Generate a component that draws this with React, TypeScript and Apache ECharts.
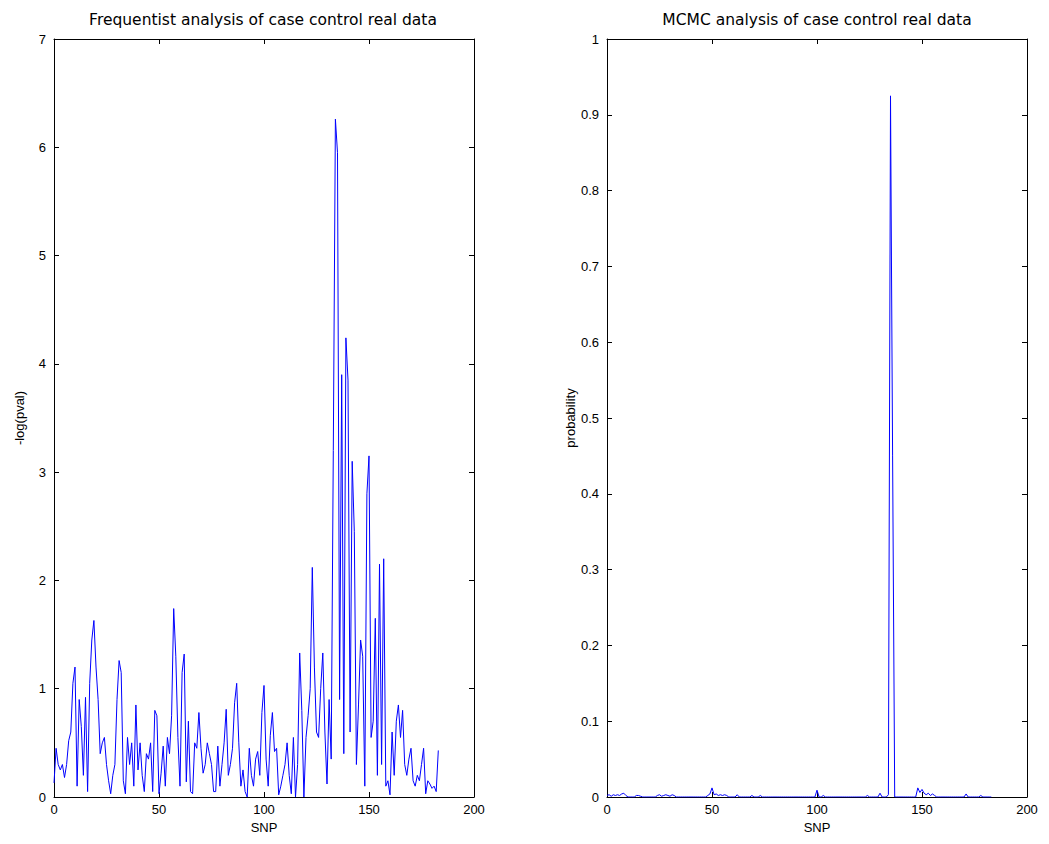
import React, { useEffect, useRef } from "react";
import * as echarts from "echarts";

// SNP index runs 0..183
const freqValues: number[] = [
  0.13, 0.45, 0.3, 0.25, 0.3, 0.18, 0.3, 0.52, 0.6, 1.05,
  1.2, 0.1, 0.9, 0.65, 0.2, 0.92, 0.05, 1.05, 1.45, 1.63,
  1.2, 0.9, 0.4, 0.5, 0.55, 0.3, 0.15, 0.03, 0.2, 0.3,
  0.9, 1.26, 1.15, 0.15, 0.03, 0.55, 0.3, 0.5, 0.1, 0.85,
  0.25, 0.5, 0.2, 0.05, 0.4, 0.35, 0.5, 0.05, 0.8, 0.75,
  0.03, 0.22, 0.47, 0.1, 0.55, 0.4, 0.75, 1.74, 1.3, 0.55,
  0.1, 1.15, 1.32, 0.14, 0.7, 0.05, 0.03, 0.5, 0.45, 0.78,
  0.45, 0.22, 0.3, 0.5, 0.4, 0.3, 0.05, 0.05, 0.47, 0.1,
  0.3, 0.5, 0.81, 0.2, 0.3, 0.45, 0.87, 1.05, 0.5, 0.1,
  0.25, 0.05, 0.0, 0.45, 0.2, 0.1, 0.35, 0.42, 0.2, 0.78,
  1.03, 0.35, 0.1, 0.57, 0.78, 0.42, 0.45, 0.02, 0.1, 0.2,
  0.3, 0.5, 0.2, 0.03, 0.55, 0.0, 0.3, 1.33, 0.8, 0.0,
  0.55, 0.75, 1.0, 2.12, 1.2, 0.6, 0.55, 1.0, 1.33, 0.6,
  0.12, 0.9, 0.35, 3.2, 6.26, 5.95, 0.9, 3.9, 0.4, 4.24,
  3.85, 0.6, 3.1, 2.45, 0.3, 0.85, 1.45, 1.3, 0.1, 2.8,
  3.15, 0.55, 0.7, 1.65, 0.2, 2.15, 0.3, 2.2, 0.1, 0.15,
  0.02, 0.6, 0.2, 0.7, 0.85, 0.55, 0.8, 0.3, 0.2, 0.35,
  0.45, 0.15, 0.1, 0.2, 0.15, 0.3, 0.45, 0.03, 0.15, 0.12,
  0.08, 0.1, 0.05, 0.43,
];

const mcmcValues: number[] = [
  0.002, 0.003, 0.001, 0.003, 0.002, 0.003, 0.002, 0.004, 0.005, 0.002,
  0.0, 0.0, 0.0, 0.0, 0.002, 0.002, 0.001, 0.0, 0.0, 0.0,
  0.0, 0.0, 0.0, 0.0, 0.002, 0.003, 0.001, 0.002, 0.003, 0.002,
  0.001, 0.003, 0.002, 0.0, 0.0, 0.0, 0.0, 0.0, 0.0, 0.0,
  0.0, 0.0, 0.0, 0.0, 0.0, 0.0, 0.0, 0.0, 0.002, 0.004,
  0.012, 0.003, 0.004, 0.002, 0.003, 0.002, 0.003, 0.002, 0.0, 0.0,
  0.0, 0.0, 0.003, 0.0, 0.0, 0.0, 0.0, 0.0, 0.0, 0.002,
  0.0, 0.0, 0.0, 0.002, 0.0, 0.0, 0.0, 0.0, 0.0, 0.0,
  0.0, 0.0, 0.0, 0.0, 0.0, 0.0, 0.0, 0.0, 0.0, 0.0,
  0.0, 0.0, 0.0, 0.0, 0.0, 0.0, 0.0, 0.0, 0.0, 0.0,
  0.009, 0.0, 0.0, 0.002, 0.0, 0.0, 0.0, 0.0, 0.0, 0.0,
  0.0, 0.0, 0.0, 0.0, 0.0, 0.0, 0.0, 0.0, 0.0, 0.0,
  0.0, 0.0, 0.0, 0.0, 0.002, 0.0, 0.0, 0.0, 0.0, 0.0,
  0.005, 0.0, 0.0, 0.0, 0.003, 0.925, 0.45, 0.0, 0.0, 0.0,
  0.0, 0.0, 0.0, 0.0, 0.0, 0.0, 0.0, 0.0, 0.012, 0.006,
  0.01, 0.005, 0.003, 0.005, 0.002, 0.004, 0.002, 0.0, 0.0, 0.0,
  0.0, 0.0, 0.0, 0.0, 0.0, 0.0, 0.0, 0.0, 0.0, 0.0,
  0.0, 0.004, 0.0, 0.0, 0.0, 0.0, 0.0, 0.0, 0.002, 0.0,
  0.0, 0.0, 0.0, 0.0,
];

const xTicks = [0, 50, 100, 150, 200];
const leftTitle = "Frequentist analysis of case control real data";
const rightTitle = "MCMC analysis of case control real data";

const FONT = "Liberation Sans, Arial, sans-serif";
const TITLE_FONT = "DejaVu Sans, Liberation Sans, sans-serif";
const AXIS_COLOR = "#000000";

function makeX(gridIndex: number, position: "bottom" | "top", withLabels: boolean, name?: string) {
  return {
    type: "value",
    gridIndex,
    position,
    min: xTicks[0],
    max: xTicks[xTicks.length - 1],
    interval: 50,
    name: name || "",
    nameLocation: "middle",
    nameGap: 24,
    nameTextStyle: { color: "#000", fontSize: 13, fontFamily: FONT },
    axisLine: { show: true, onZero: false, lineStyle: { color: AXIS_COLOR, width: 1 } },
    axisTick: { show: true, inside: true, length: 5, lineStyle: { color: AXIS_COLOR } },
    axisLabel: { show: withLabels, color: "#000", fontSize: 13, fontFamily: FONT, margin: 6 },
    splitLine: { show: false },
  };
}

function makeY(
  gridIndex: number,
  position: "left" | "right",
  withLabels: boolean,
  max: number,
  interval: number,
  name?: string
) {
  return {
    type: "value",
    gridIndex,
    position,
    min: 0,
    max,
    interval,
    name: name || "",
    nameLocation: "middle",
    nameGap: 28,
    nameTextStyle: { color: "#000", fontSize: 13, fontFamily: FONT },
    axisLine: { show: true, onZero: false, lineStyle: { color: AXIS_COLOR, width: 1 } },
    axisTick: { show: true, inside: true, length: 5, lineStyle: { color: AXIS_COLOR } },
    axisLabel: {
      show: withLabels,
      color: "#000",
      fontSize: 13,
      fontFamily: FONT,
      margin: 8,
      formatter: (v: number) => String(Math.round(v * 10) / 10),
    },
    splitLine: { show: false },
  };
}

export default function App() {
  const ref = useRef<HTMLDivElement>(null);

  useEffect(() => {
    if (!ref.current) return;
    const chart = echarts.init(ref.current, undefined, { renderer: "svg" });
    const freqData = freqValues.map((v, i) => [i, v]);
    const mcmcData = mcmcValues.map((v, i) => [i, v]);

    chart.setOption({
      animation: false,
      backgroundColor: "#ffffff",
      title: [
        {
          text: leftTitle,
          left: 263,
          top: 12,
          padding: 0,
          textAlign: "center",
          textStyle: { fontSize: 15.5, fontWeight: "normal", color: "#000", fontFamily: TITLE_FONT },
        },
        {
          text: rightTitle,
          left: 817,
          top: 12,
          padding: 0,
          textAlign: "center",
          textStyle: { fontSize: 15.5, fontWeight: "normal", color: "#000", fontFamily: TITLE_FONT },
        },
      ],
      grid: [
        { left: 54, right: 575, top: 39, bottom: 47, containLabel: false },
        { left: 607, right: 22, top: 39, bottom: 47, containLabel: false },
      ],
      xAxis: [
        makeX(0, "bottom", true, "SNP"),
        makeX(0, "top", false),
        makeX(1, "bottom", true, "SNP"),
        makeX(1, "top", false),
      ],
      yAxis: [
        makeY(0, "left", true, 7, 1, "-log(pval)"),
        makeY(0, "right", false, 7, 1),
        makeY(1, "left", true, 1, 0.1, "probability"),
        makeY(1, "right", false, 1, 0.1),
      ],
      series: [
        {
          type: "line",
          xAxisIndex: 0,
          yAxisIndex: 0,
          data: freqData,
          showSymbol: false,
          symbol: "none",
          lineStyle: { color: "#0000ff", width: 1 },
          itemStyle: { color: "#0000ff" },
        },
        {
          type: "line",
          xAxisIndex: 2,
          yAxisIndex: 2,
          data: mcmcData,
          showSymbol: false,
          symbol: "none",
          lineStyle: { color: "#0000ff", width: 1 },
          itemStyle: { color: "#0000ff" },
        },
      ],
    });

    return () => {
      chart.dispose();
    };
  }, []);

  return (
    <div
      ref={ref}
      style={{ position: "fixed", left: 0, top: 0, width: 1049, height: 844 }}
    />
  );
}
